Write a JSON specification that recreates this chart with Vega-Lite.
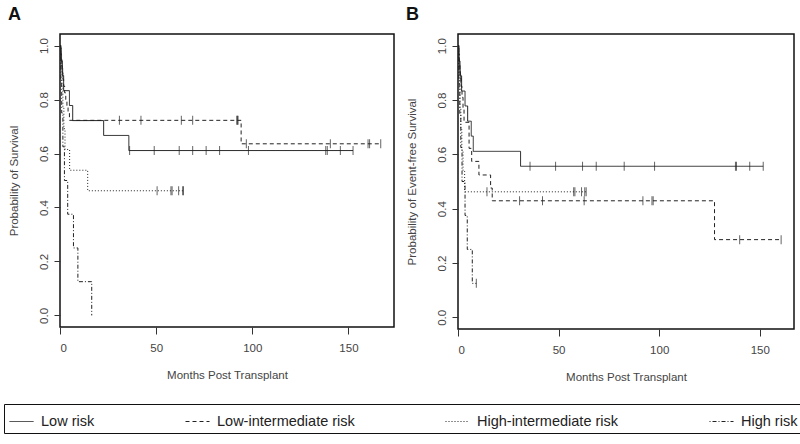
{
  "$schema": "https://vega.github.io/schema/vega-lite/v6.json",
  "background": "white",
  "padding": {"left": 3, "top": 5, "right": 2, "bottom": 0},
  "config": {
    "font": "Liberation Sans",
    "view": {"stroke": "#111", "strokeWidth": 1.5},
    "axis": {
      "grid": false, "domain": false, "tickColor": "#333", "tickWidth": 1,
      "labelColor": "#444", "titleColor": "#444",
      "labelFont": "Liberation Sans", "titleFont": "Liberation Sans",
      "labelFontSize": 11.5, "titleFontSize": 11.5, "titleFontWeight": "normal"
    },
    "title": {"font": "Liberation Sans", "fontSize": 18, "fontWeight": "bold", "color": "#111", "anchor": "start", "frame": "bounds", "baseline": "alphabetic", "offset": 10}
  },
  "datasets": {
    "curves": [
      {"panel": "A", "group": "Low risk", "months": 0, "prob": 1},
      {"panel": "A", "group": "Low risk", "months": 0.5, "prob": 0.944},
      {"panel": "A", "group": "Low risk", "months": 1.2, "prob": 0.889},
      {"panel": "A", "group": "Low risk", "months": 1.9, "prob": 0.833},
      {"panel": "A", "group": "Low risk", "months": 4.9, "prob": 0.778},
      {"panel": "A", "group": "Low risk", "months": 6.6, "prob": 0.722},
      {"panel": "A", "group": "Low risk", "months": 22.7, "prob": 0.667},
      {"panel": "A", "group": "Low risk", "months": 35.8, "prob": 0.611},
      {"panel": "A", "group": "Low risk", "months": 152.4, "prob": 0.611},
      {"panel": "A", "group": "Low-intermediate risk", "months": 0, "prob": 1},
      {"panel": "A", "group": "Low-intermediate risk", "months": 0.3, "prob": 0.975},
      {"panel": "A", "group": "Low-intermediate risk", "months": 0.6, "prob": 0.95},
      {"panel": "A", "group": "Low-intermediate risk", "months": 0.9, "prob": 0.925},
      {"panel": "A", "group": "Low-intermediate risk", "months": 1.2, "prob": 0.9},
      {"panel": "A", "group": "Low-intermediate risk", "months": 1.5, "prob": 0.875},
      {"panel": "A", "group": "Low-intermediate risk", "months": 1.9, "prob": 0.85},
      {"panel": "A", "group": "Low-intermediate risk", "months": 2.4, "prob": 0.825},
      {"panel": "A", "group": "Low-intermediate risk", "months": 3.0, "prob": 0.8},
      {"panel": "A", "group": "Low-intermediate risk", "months": 3.6, "prob": 0.775},
      {"panel": "A", "group": "Low-intermediate risk", "months": 4.2, "prob": 0.75},
      {"panel": "A", "group": "Low-intermediate risk", "months": 4.9, "prob": 0.723},
      {"panel": "A", "group": "Low-intermediate risk", "months": 94.2, "prob": 0.636},
      {"panel": "A", "group": "Low-intermediate risk", "months": 166.8, "prob": 0.636},
      {"panel": "A", "group": "High-intermediate risk", "months": 0, "prob": 1},
      {"panel": "A", "group": "High-intermediate risk", "months": 0.5, "prob": 0.923},
      {"panel": "A", "group": "High-intermediate risk", "months": 1.0, "prob": 0.846},
      {"panel": "A", "group": "High-intermediate risk", "months": 1.5, "prob": 0.769},
      {"panel": "A", "group": "High-intermediate risk", "months": 2.0, "prob": 0.692},
      {"panel": "A", "group": "High-intermediate risk", "months": 2.6, "prob": 0.615},
      {"panel": "A", "group": "High-intermediate risk", "months": 5.0, "prob": 0.538},
      {"panel": "A", "group": "High-intermediate risk", "months": 14.4, "prob": 0.462},
      {"panel": "A", "group": "High-intermediate risk", "months": 64.2, "prob": 0.462},
      {"panel": "A", "group": "High risk", "months": 0, "prob": 1},
      {"panel": "A", "group": "High risk", "months": 0.4, "prob": 0.875},
      {"panel": "A", "group": "High risk", "months": 0.9, "prob": 0.75},
      {"panel": "A", "group": "High risk", "months": 1.5, "prob": 0.625},
      {"panel": "A", "group": "High risk", "months": 2.3, "prob": 0.5},
      {"panel": "A", "group": "High risk", "months": 4.0, "prob": 0.375},
      {"panel": "A", "group": "High risk", "months": 7.0, "prob": 0.25},
      {"panel": "A", "group": "High risk", "months": 9.3, "prob": 0.125},
      {"panel": "A", "group": "High risk", "months": 16.5, "prob": 0},
      {"panel": "B", "group": "Low risk", "months": 0, "prob": 1},
      {"panel": "B", "group": "Low risk", "months": 0.5, "prob": 0.944},
      {"panel": "B", "group": "Low risk", "months": 1.0, "prob": 0.889},
      {"panel": "B", "group": "Low risk", "months": 1.8, "prob": 0.833},
      {"panel": "B", "group": "Low risk", "months": 3.5, "prob": 0.778},
      {"panel": "B", "group": "Low risk", "months": 4.8, "prob": 0.722},
      {"panel": "B", "group": "Low risk", "months": 6.6, "prob": 0.667},
      {"panel": "B", "group": "Low risk", "months": 7.6, "prob": 0.611},
      {"panel": "B", "group": "Low risk", "months": 31.1, "prob": 0.556},
      {"panel": "B", "group": "Low risk", "months": 151.7, "prob": 0.556},
      {"panel": "B", "group": "Low-intermediate risk", "months": 0, "prob": 1},
      {"panel": "B", "group": "Low-intermediate risk", "months": 0.3, "prob": 0.97},
      {"panel": "B", "group": "Low-intermediate risk", "months": 0.6, "prob": 0.94},
      {"panel": "B", "group": "Low-intermediate risk", "months": 0.9, "prob": 0.91},
      {"panel": "B", "group": "Low-intermediate risk", "months": 1.2, "prob": 0.88},
      {"panel": "B", "group": "Low-intermediate risk", "months": 1.6, "prob": 0.85},
      {"panel": "B", "group": "Low-intermediate risk", "months": 2.0, "prob": 0.81},
      {"panel": "B", "group": "Low-intermediate risk", "months": 2.5, "prob": 0.77},
      {"panel": "B", "group": "Low-intermediate risk", "months": 3.0, "prob": 0.718},
      {"panel": "B", "group": "Low-intermediate risk", "months": 5.5, "prob": 0.622},
      {"panel": "B", "group": "Low-intermediate risk", "months": 6.8, "prob": 0.574},
      {"panel": "B", "group": "Low-intermediate risk", "months": 10.4, "prob": 0.524},
      {"panel": "B", "group": "Low-intermediate risk", "months": 16.2, "prob": 0.476},
      {"panel": "B", "group": "Low-intermediate risk", "months": 17.0, "prob": 0.429},
      {"panel": "B", "group": "Low-intermediate risk", "months": 127.5, "prob": 0.286},
      {"panel": "B", "group": "Low-intermediate risk", "months": 160.6, "prob": 0.286},
      {"panel": "B", "group": "High-intermediate risk", "months": 0, "prob": 1},
      {"panel": "B", "group": "High-intermediate risk", "months": 0.3, "prob": 0.923},
      {"panel": "B", "group": "High-intermediate risk", "months": 0.6, "prob": 0.846},
      {"panel": "B", "group": "High-intermediate risk", "months": 1.0, "prob": 0.769},
      {"panel": "B", "group": "High-intermediate risk", "months": 1.4, "prob": 0.692},
      {"panel": "B", "group": "High-intermediate risk", "months": 1.9, "prob": 0.615},
      {"panel": "B", "group": "High-intermediate risk", "months": 2.5, "prob": 0.538},
      {"panel": "B", "group": "High-intermediate risk", "months": 3.3, "prob": 0.462},
      {"panel": "B", "group": "High-intermediate risk", "months": 63.7, "prob": 0.462},
      {"panel": "B", "group": "High risk", "months": 0, "prob": 1},
      {"panel": "B", "group": "High risk", "months": 0.4, "prob": 0.875},
      {"panel": "B", "group": "High risk", "months": 0.9, "prob": 0.75},
      {"panel": "B", "group": "High risk", "months": 1.4, "prob": 0.625},
      {"panel": "B", "group": "High risk", "months": 2.0, "prob": 0.5},
      {"panel": "B", "group": "High risk", "months": 3.5, "prob": 0.375},
      {"panel": "B", "group": "High risk", "months": 4.6, "prob": 0.25},
      {"panel": "B", "group": "High risk", "months": 7.1, "prob": 0.125},
      {"panel": "B", "group": "High risk", "months": 9.1, "prob": 0.125}
    ],
    "censors": [
      {"panel": "A", "group": "Low risk", "months": 36.2, "prob": 0.611},
      {"panel": "A", "group": "Low risk", "months": 49, "prob": 0.611},
      {"panel": "A", "group": "Low risk", "months": 62, "prob": 0.611},
      {"panel": "A", "group": "Low risk", "months": 69, "prob": 0.611},
      {"panel": "A", "group": "Low risk", "months": 76, "prob": 0.611},
      {"panel": "A", "group": "Low risk", "months": 83, "prob": 0.611},
      {"panel": "A", "group": "Low risk", "months": 98, "prob": 0.611},
      {"panel": "A", "group": "Low risk", "months": 138.2, "prob": 0.611},
      {"panel": "A", "group": "Low risk", "months": 139, "prob": 0.611},
      {"panel": "A", "group": "Low risk", "months": 145.8, "prob": 0.611},
      {"panel": "A", "group": "Low risk", "months": 152.4, "prob": 0.611},
      {"panel": "A", "group": "Low-intermediate risk", "months": 0.5, "prob": 0.975},
      {"panel": "A", "group": "Low-intermediate risk", "months": 0.8, "prob": 0.95},
      {"panel": "A", "group": "Low-intermediate risk", "months": 1.1, "prob": 0.925},
      {"panel": "A", "group": "Low-intermediate risk", "months": 1.4, "prob": 0.9},
      {"panel": "A", "group": "Low-intermediate risk", "months": 30.9, "prob": 0.723},
      {"panel": "A", "group": "Low-intermediate risk", "months": 42.1, "prob": 0.723},
      {"panel": "A", "group": "Low-intermediate risk", "months": 63.1, "prob": 0.723},
      {"panel": "A", "group": "Low-intermediate risk", "months": 69, "prob": 0.723},
      {"panel": "A", "group": "Low-intermediate risk", "months": 91.9, "prob": 0.723},
      {"panel": "A", "group": "Low-intermediate risk", "months": 92.3, "prob": 0.723},
      {"panel": "A", "group": "Low-intermediate risk", "months": 92.6, "prob": 0.723},
      {"panel": "A", "group": "Low-intermediate risk", "months": 96.9, "prob": 0.636},
      {"panel": "A", "group": "Low-intermediate risk", "months": 140.6, "prob": 0.636},
      {"panel": "A", "group": "Low-intermediate risk", "months": 160.2, "prob": 0.636},
      {"panel": "A", "group": "Low-intermediate risk", "months": 161, "prob": 0.636},
      {"panel": "A", "group": "Low-intermediate risk", "months": 166.8, "prob": 0.636},
      {"panel": "A", "group": "High-intermediate risk", "months": 50.5, "prob": 0.462},
      {"panel": "A", "group": "High-intermediate risk", "months": 57.7, "prob": 0.462},
      {"panel": "A", "group": "High-intermediate risk", "months": 58.3, "prob": 0.462},
      {"panel": "A", "group": "High-intermediate risk", "months": 61.7, "prob": 0.462},
      {"panel": "A", "group": "High-intermediate risk", "months": 63.8, "prob": 0.462},
      {"panel": "A", "group": "High-intermediate risk", "months": 64.2, "prob": 0.462},
      {"panel": "B", "group": "Low risk", "months": 35.8, "prob": 0.556},
      {"panel": "B", "group": "Low risk", "months": 48.5, "prob": 0.556},
      {"panel": "B", "group": "Low risk", "months": 61.9, "prob": 0.556},
      {"panel": "B", "group": "Low risk", "months": 68.7, "prob": 0.556},
      {"panel": "B", "group": "Low risk", "months": 82.6, "prob": 0.556},
      {"panel": "B", "group": "Low risk", "months": 97.7, "prob": 0.556},
      {"panel": "B", "group": "Low risk", "months": 137.9, "prob": 0.556},
      {"panel": "B", "group": "Low risk", "months": 138.4, "prob": 0.556},
      {"panel": "B", "group": "Low risk", "months": 145, "prob": 0.556},
      {"panel": "B", "group": "Low risk", "months": 151.7, "prob": 0.556},
      {"panel": "B", "group": "Low-intermediate risk", "months": 0.4, "prob": 0.97},
      {"panel": "B", "group": "Low-intermediate risk", "months": 0.7, "prob": 0.94},
      {"panel": "B", "group": "Low-intermediate risk", "months": 1.0, "prob": 0.91},
      {"panel": "B", "group": "Low-intermediate risk", "months": 1.3, "prob": 0.88},
      {"panel": "B", "group": "Low-intermediate risk", "months": 30.6, "prob": 0.429},
      {"panel": "B", "group": "Low-intermediate risk", "months": 42, "prob": 0.429},
      {"panel": "B", "group": "Low-intermediate risk", "months": 62.7, "prob": 0.429},
      {"panel": "B", "group": "Low-intermediate risk", "months": 91.9, "prob": 0.429},
      {"panel": "B", "group": "Low-intermediate risk", "months": 96.4, "prob": 0.429},
      {"panel": "B", "group": "Low-intermediate risk", "months": 97, "prob": 0.429},
      {"panel": "B", "group": "Low-intermediate risk", "months": 140, "prob": 0.286},
      {"panel": "B", "group": "Low-intermediate risk", "months": 160.6, "prob": 0.286},
      {"panel": "B", "group": "High-intermediate risk", "months": 14.4, "prob": 0.462},
      {"panel": "B", "group": "High-intermediate risk", "months": 57.5, "prob": 0.462},
      {"panel": "B", "group": "High-intermediate risk", "months": 58.1, "prob": 0.462},
      {"panel": "B", "group": "High-intermediate risk", "months": 61.4, "prob": 0.462},
      {"panel": "B", "group": "High-intermediate risk", "months": 63, "prob": 0.462},
      {"panel": "B", "group": "High-intermediate risk", "months": 63.7, "prob": 0.462},
      {"panel": "B", "group": "High risk", "months": 9.1, "prob": 0.125}
    ]
  },
  "spacing": 10,
  "resolve": {"scale": {"strokeDash": "shared"}, "legend": {"strokeDash": "shared"}},
  "hconcat": [
    {
      "title": {"text": "A"},
      "width": 334,
      "height": 293,
      "layer": [
        {
          "data": {"name": "curves"},
          "transform": [{"filter": "datum.panel === 'A'"}],
          "mark": {"type": "line", "interpolate": "step-after", "color": "#222", "strokeWidth": 1},
          "encoding": {
            "x": {"field": "months", "type": "quantitative", "scale": {"domain": [0, 173.7], "nice": false, "zero": false}, "axis": {"values": [0, 50, 100, 150], "title": "Months Post Transplant", "tickSize": 7, "labelPadding": 8, "titlePadding": 16}},
            "y": {"field": "prob", "type": "quantitative", "scale": {"domain": [-0.043, 1.043], "nice": false, "zero": false}, "axis": {"values": [0, 0.2, 0.4, 0.6, 0.8, 1.0], "format": ".1f", "labelAngle": -90, "labelAlign": "center", "labelBaseline": "bottom", "tickSize": 6, "labelPadding": 5, "titlePadding": 19, "title": "Probability of Survival"}},
            "strokeDash": {
              "field": "group", "type": "nominal",
              "scale": {"domain": ["Low risk", "Low-intermediate risk", "High-intermediate risk", "High risk"], "range": [[1, 0], [4, 3], [1, 2], [1, 2, 4, 2]]},
              "legend": {"title": null, "orient": "none", "legendX": -56, "legendY": 370, "direction": "horizontal", "symbolType": "stroke", "symbolSize": 576, "symbolStrokeWidth": 1, "symbolStrokeColor": "#222", "labelFont": "Liberation Sans", "labelFontSize": 14.5, "labelColor": "#222", "labelOffset": 7, "labelLimit": 400, "columnPadding": 88, "padding": 5, "strokeColor": "#111"}
            }
          }
        },
        {
          "data": {"name": "censors"},
          "transform": [{"filter": "datum.panel === 'A'"}],
          "mark": {"type": "tick", "orient": "vertical", "color": "#222", "size": 9, "thickness": 1},
          "encoding": {
            "x": {"field": "months", "type": "quantitative"},
            "y": {"field": "prob", "type": "quantitative"}
          }
        }
      ]
    },
    {
      "title": {"text": "B"},
      "width": 336,
      "height": 295,
      "layer": [
        {
          "data": {"name": "curves"},
          "transform": [{"filter": "datum.panel === 'B'"}],
          "mark": {"type": "line", "interpolate": "step-after", "color": "#222", "strokeWidth": 1},
          "encoding": {
            "x": {"field": "months", "type": "quantitative", "scale": {"domain": [0, 167], "nice": false, "zero": false}, "axis": {"values": [0, 50, 100, 150], "title": "Months Post Transplant", "tickSize": 7, "labelPadding": 8, "titlePadding": 16}},
            "y": {"field": "prob", "type": "quantitative", "scale": {"domain": [-0.043, 1.043], "nice": false, "zero": false}, "axis": {"values": [0, 0.2, 0.4, 0.6, 0.8, 1.0], "format": ".1f", "labelAngle": -90, "labelAlign": "center", "labelBaseline": "bottom", "tickSize": 6, "labelPadding": 5, "titlePadding": 19, "title": "Probability of Event-free Survival"}},
            "strokeDash": {"field": "group", "type": "nominal"}
          }
        },
        {
          "data": {"name": "censors"},
          "transform": [{"filter": "datum.panel === 'B'"}],
          "mark": {"type": "tick", "orient": "vertical", "color": "#222", "size": 9, "thickness": 1},
          "encoding": {
            "x": {"field": "months", "type": "quantitative"},
            "y": {"field": "prob", "type": "quantitative"}
          }
        }
      ]
    }
  ]
}
